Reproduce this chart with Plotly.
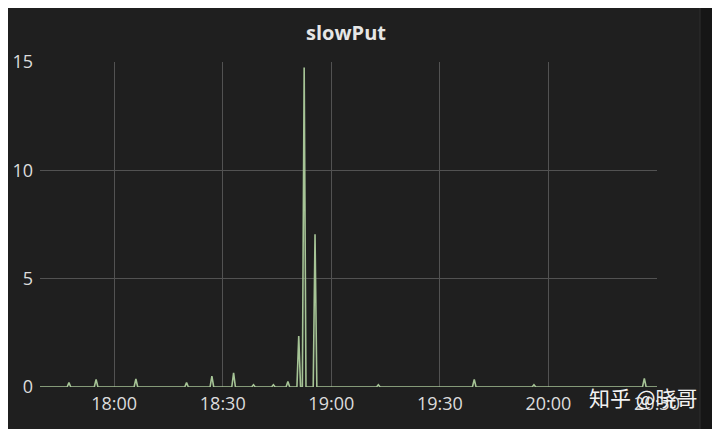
import pandas as pd
import plotly.graph_objects as go

# slowPut samples (30 s resolution); everything not listed sits at 0
start_time = "2020-01-01 17:39:30"
end_time = "2020-01-01 20:30:00"
spike_times = [
    "17:47:30", "17:55:00", "18:06:00", "18:20:00", "18:27:00", "18:33:00",
    "18:38:30", "18:44:00", "18:48:00", "18:51:00", "18:52:30", "18:55:30",
    "19:13:00", "19:39:30", "19:56:00", "20:26:30",
]
spike_values = [
    0.2, 0.35, 0.37, 0.2, 0.5, 0.65,
    0.1, 0.1, 0.25, 2.35, 14.75, 7.05,
    0.1, 0.35, 0.1, 0.4,
]
x_tick_vals = ["18:00", "18:30", "19:00", "19:30", "20:00", "20:30"]
y_tick_vals = [0, 5, 10, 15]

idx = pd.date_range(start_time, end_time, freq="30s")
series = pd.Series(0.0, index=idx)
for t, v in zip(spike_times, spike_values):
    series[pd.Timestamp("2020-01-01 " + t)] = v

bg = "#1f1f1f"
text_col = "#dcdcdc"
grid_col = "#525252"

fig = go.Figure()
fig.add_trace(
    go.Scatter(
        x=series.index,
        y=series.values,
        mode="lines",
        line=dict(color="#a6c496", width=1.6),
        hoverinfo="skip",
        showlegend=False,
    )
)

# the page puts the figure 8px in from the corner, so size/margins account for that
fig.update_layout(
    width=712,
    height=421,
    paper_bgcolor=bg,
    plot_bgcolor=bg,
    margin=dict(l=32, r=63, t=54, b=42),
    title=dict(
        text="<b>slowPut</b>",
        x=(346 - 8) / 712,
        xanchor="center",
        y=1 - 25 / 421,
        yanchor="middle",
        font=dict(family="Open Sans", size=20, color="#e6e6e6"),
    ),
    font=dict(family="Open Sans", size=18, color=text_col),
    shapes=[
        dict(type="rect", xref="paper", yref="paper",
             x0=1 + 43 / 617, x1=1.2, y0=-0.2, y1=1.3,
             fillcolor="#161616", line=dict(color="#2e2e2e", width=1), layer="below"),
    ],
    annotations=[
        dict(
            text="知乎 @晓哥",
            xref="paper", yref="paper",
            x=1 + 43 / 617, y=-10 / 325,
            xanchor="right", yanchor="middle",
            showarrow=False,
            font=dict(family="Noto Sans CJK SC", size=21, color="#f2f2f2"),
        )
    ],
)

fig.update_xaxes(
    range=[pd.Timestamp(start_time), pd.Timestamp(end_time)],
    tickvals=[pd.Timestamp("2020-01-01 " + t) for t in x_tick_vals],
    ticktext=x_tick_vals,
    showgrid=True,
    gridcolor=grid_col,
    gridwidth=1,
    zeroline=False,
    showline=False,
    ticks="",
    ticklabelstandoff=4,
    automargin=False,
)
fig.update_yaxes(
    range=[0, 15],
    tickvals=y_tick_vals,
    showgrid=True,
    gridcolor=grid_col,
    gridwidth=1,
    zeroline=False,
    showline=False,
    ticks="",
    ticklabelstandoff=6,
    automargin=False,
)

fig.write_html("out.html")
